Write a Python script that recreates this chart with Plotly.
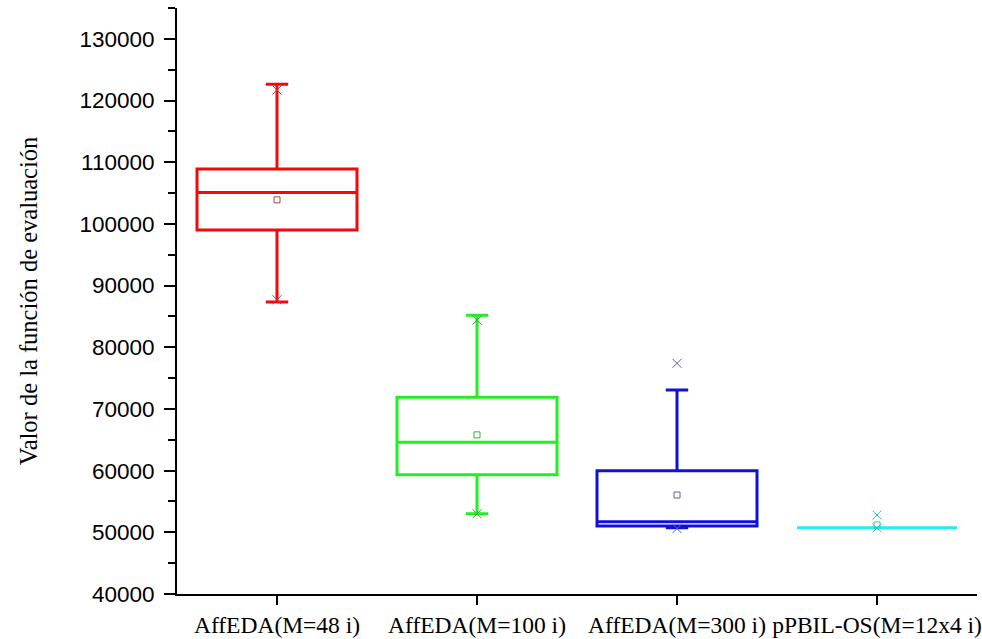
import plotly.graph_objects as go

categories = ["AffEDA(M=48 i)", "AffEDA(M=100 i)", "AffEDA(M=300 i)", "pPBIL-OS(M=12x4 i)"]
q1 = [99000, 59350, 51030, 50750]
median = [105100, 64600, 51700, 50750]
q3 = [108900, 71900, 60000, 50750]
lower_whisker = [87350, 53030, 50750, 50750]
upper_whisker = [122650, 85200, 73080, 50750]
means = [103900, 65800, 56050, 51200]
mins = [87700, 53000, 50600, 50700]
maxs = [121700, 84400, 77400, 52800]
colors = ["#f00a0a", "#22ee22", "#1010dd", "#22eeee"]
marker_colors = ["#b04040", "#30b030", "#6060a0", "#40c0c0"]

fig = go.Figure()
for i, cat in enumerate(categories):
    fig.add_trace(go.Box(
        x=[cat], q1=[q1[i]], median=[median[i]], q3=[q3[i]],
        lowerfence=[lower_whisker[i]], upperfence=[upper_whisker[i]],
        line=dict(color=colors[i], width=3),
        fillcolor="rgba(0,0,0,0)", width=0.8, whiskerwidth=0.14,
        boxpoints=False, showlegend=False, hoverinfo="skip",
    ))

fig.add_trace(go.Scatter(
    x=categories, y=means, mode="markers", showlegend=False,
    marker=dict(symbol="square-open", size=6, color=marker_colors, line=dict(width=1, color=marker_colors)),
))
fig.add_trace(go.Scatter(
    x=categories + categories, y=mins + maxs, mode="markers", showlegend=False,
    marker=dict(symbol="x-thin-open", size=9, color=marker_colors + marker_colors,
                line=dict(width=1, color=marker_colors + marker_colors)),
))

fig.update_layout(
    width=982, height=639,
    margin=dict(l=177, r=5, t=8, b=45),
    paper_bgcolor="white", plot_bgcolor="white",
    boxmode="overlay",
    xaxis=dict(
        type="category", range=[-0.5, 3.5], tickangle=0, automargin=False,
        showline=True, linecolor="black", linewidth=2,
        ticks="outside", ticklen=9, tickwidth=2, tickcolor="black",
        showgrid=False, zeroline=False,
        tickfont=dict(family="Liberation Serif", size=23.5, color="black"),
    ),
    yaxis=dict(
        range=[40000, 135000], tickmode="linear", tick0=40000, dtick=10000,
        automargin=False,
        showline=True, linecolor="black", linewidth=2,
        ticks="outside", ticklen=11, tickwidth=2, tickcolor="black",
        ticklabelstandoff=5,
        minor=dict(dtick=5000, tick0=40000, ticks="outside", ticklen=7, tickwidth=2, tickcolor="black", showgrid=False),
        showgrid=False, zeroline=False, tickformat="d",
        tickfont=dict(family="Liberation Sans", size=22.5, color="black"),
        title=dict(text="Valor de la función de evaluación", standoff=35,
                   font=dict(family="Liberation Serif", size=24.5, color="black")),
    ),
)

fig.write_html("out.html")
